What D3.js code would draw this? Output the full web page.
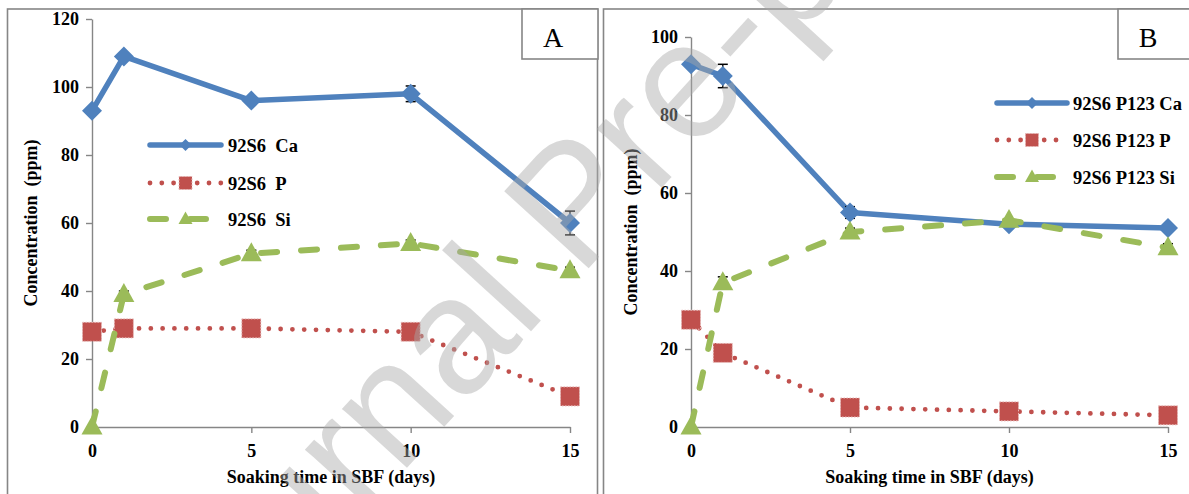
<!DOCTYPE html>
<html><head><meta charset="utf-8">
<script src="https://cdn.jsdelivr.net/npm/d3@7"></script>
<style>
body{margin:0;background:#fff}
svg{display:block}
</style>
</head><body>
<svg id="c" width="1189" height="494"></svg>
<script>
// ---------- data ----------
const days = [0, 1, 5, 10, 15];
const xTickVals = [0, 5, 10, 15];
const yTicksA = [0, 20, 40, 60, 80, 100, 120];
const yTicksB = [0, 20, 40, 60, 80, 100];

const caA = [93, 109, 96, 98, 60];
const pA  = [28, 29, 29, 28, 9];
const siA = [0, 39, 51, 54, 46];
const caAErr = [0, 1, 0, 2.3, 3.5];
const pAErr  = [0, 0, 0, 0, 0];
const siAErr = [0, 1, 1, 1, 1];

const caB = [93, 90, 55, 52, 51];
const pB  = [27.5, 19, 5, 4, 3];
const siB = [0, 37, 50, 53, 46];
const caBErr = [0, 3, 1.5, 0, 0];
const pBErr  = [0, 0, 0, 0, 0];
const siBErr = [0, 1.5, 1, 0, 1];

const namesA = ["92S6  Ca", "92S6  P", "92S6  Si"];
const namesB = ["92S6 P123 Ca", "92S6 P123 P", "92S6 P123 Si"];
const panelLabels = ["A", "B"];
const xTitle = "Soaking time in SBF (days)";
const yTitle = "Concentration  (ppm)";
const watermark = "Journal Pre-proof";

// ---------- styles ----------
const SERIF = "Liberation Serif";
const BLUE = "#4F81BD", RED = "#C0504D", GREEN = "#9BBB59", AXIS = "#868686";
const seriesStyle = [
  {color: BLUE, width: 5.5, dash: null, cap: "round", marker: "diamond"},
  {color: RED, width: 4.8, dash: "0,11.8", cap: "round", marker: "square"},
  {color: GREEN, width: 6, dash: "16,24", cap: "round", marker: "triangle"}
];

const svg = d3.select("#c");
svg.append("rect").attr("width", 1189).attr("height", 494).attr("fill", "#fff");

const panels = [
  {frame: {x: 7.5, y: 9, w: 590, h: 520}, plot: {x0: 92, x1: 570, yb: 427, yt: 19}, yMax: 120, yTicks: yTicksA,
   series: [[caA, caAErr], [pA, pAErr], [siA, siAErr]], names: namesA,
   legend: {x1: 150, x2: 221, tx: 228, ys: [145, 183, 219]},
   box: {x: 522, y: 9, w: 76, h: 50, tx: 553}, yTitleX: 37, label: panelLabels[0]},
  {frame: {x: 603.5, y: 9, w: 620, h: 520}, plot: {x0: 691, x1: 1168, yb: 427, yt: 37}, yMax: 100, yTicks: yTicksB,
   series: [[caB, caBErr], [pB, pBErr], [siB, siBErr]], names: namesB,
   legend: {x1: 997, x2: 1067, tx: 1073, ys: [103, 140, 177]},
   box: {x: 1118, y: 9, w: 90, h: 50, tx: 1148}, yTitleX: 637, label: panelLabels[1]}
];

function drawMarker(g, type, cx, cy, s, color) {
  if (type === "diamond") {
    g.append("path").attr("d", `M${cx},${cy - s}L${cx + s},${cy}L${cx},${cy + s}L${cx - s},${cy}Z`).attr("fill", color);
  } else if (type === "square") {
    g.append("rect").attr("x", cx - s).attr("y", cy - s).attr("width", 2 * s).attr("height", 2 * s)
      .attr("fill", color).attr("stroke", "#e6b9b8").attr("stroke-width", 1).attr("stroke-dasharray", "1.5,1.5");
  } else {
    const h = s * 1.8;
    g.append("path").attr("d", `M${cx},${cy - h * 0.6}L${cx + s},${cy + h * 0.4}L${cx - s},${cy + h * 0.4}Z`).attr("fill", color);
  }
}

panels.forEach(p => {
  const g = svg.append("g");
  g.append("rect").attr("x", p.frame.x).attr("y", p.frame.y).attr("width", p.frame.w).attr("height", p.frame.h)
    .attr("fill", "#fff").attr("stroke", AXIS).attr("stroke-width", 1.6);

  const x = d3.scaleLinear().domain([0, 15]).range([p.plot.x0, p.plot.x1]);
  const y = d3.scaleLinear().domain([0, p.yMax]).range([p.plot.yb, p.plot.yt]);

  const yAxis = g.append("g").attr("transform", `translate(${p.plot.x0},0)`)
    .call(d3.axisLeft(y).tickValues(p.yTicks).tickSize(6).tickSizeOuter(0).tickPadding(7).tickFormat(d3.format("d")));
  const xAxis = g.append("g").attr("transform", `translate(0,${p.plot.yb})`)
    .call(d3.axisBottom(x).tickValues(xTickVals).tickSize(6).tickSizeOuter(0).tickPadding(11).tickFormat(d3.format("d")));
  [xAxis, yAxis].forEach(a => {
    a.attr("font-family", SERIF).attr("font-size", 18);
    a.selectAll("path,line").attr("stroke", AXIS).attr("stroke-width", 1.4);
    a.selectAll("text").attr("fill", "#000").attr("font-family", SERIF).attr("font-size", 18).attr("font-weight", "bold");
  });

  // titles
  g.append("text").attr("x", (p.plot.x0 + p.plot.x1) / 2).attr("y", 483).attr("text-anchor", "middle")
    .attr("font-family", SERIF).attr("font-weight", "bold").attr("font-size", 18).text(xTitle);
  g.append("text").attr("transform", `translate(${p.yTitleX},${(p.plot.yb + p.plot.yt) / 2}) rotate(-90)`)
    .attr("text-anchor", "middle").attr("font-family", SERIF).attr("font-weight", "bold").attr("font-size", 18)
    .style("white-space", "pre").text(yTitle);

  // series
  p.series.forEach((s, i) => {
    const st = seriesStyle[i];
    const vals = s[0], errs = s[1];
    const pts = days.map((d, k) => [x(d), y(vals[k])]);
    const path = g.append("path").attr("d", d3.line()(pts)).attr("fill", "none")
      .attr("stroke", st.color).attr("stroke-width", st.width)
      .attr("stroke-linecap", st.cap).attr("stroke-linejoin", "round");
    if (st.dash) path.attr("stroke-dasharray", st.dash);
    // error bars
    days.forEach((d, k) => {
      if (errs[k] > 0) {
        const cx = x(d), yt = y(vals[k] + errs[k]), yb = y(vals[k] - errs[k]);
        g.append("line").attr("x1", cx).attr("x2", cx).attr("y1", yt).attr("y2", yb).attr("stroke", "#000").attr("stroke-width", 1.3);
        [yt, yb].forEach(yy => g.append("line").attr("x1", cx - 5).attr("x2", cx + 5).attr("y1", yy).attr("y2", yy)
          .attr("stroke", "#000").attr("stroke-width", 1.5));
      }
    });
    const ms = st.marker === "diamond" ? 10 : st.marker === "square" ? 9.5 : 10.5;
    pts.forEach(pt => drawMarker(g, st.marker, pt[0], pt[1], ms, st.color));

    // legend
    const ly = p.legend.ys[i];
    const lp = g.append("path").attr("d", d3.line()([[p.legend.x1, ly], [p.legend.x2, ly]])).attr("fill", "none")
      .attr("stroke", st.color).attr("stroke-width", st.width).attr("stroke-linecap", st.cap);
    if (st.dash) lp.attr("stroke-dasharray", st.dash);
    const lm = st.marker === "diamond" ? 6 : st.marker === "square" ? 6.5 : 7;
    drawMarker(g, st.marker, (p.legend.x1 + p.legend.x2) / 2, ly, lm, st.color);
    g.append("text").attr("x", p.legend.tx).attr("y", ly + 6.5)
      .attr("font-family", SERIF).attr("font-weight", "bold").attr("font-size", 18.5)
      .style("white-space", "pre").text(p.names[i]);
  });

  // panel label box
  g.append("rect").attr("x", p.box.x).attr("y", p.box.y).attr("width", p.box.w).attr("height", p.box.h)
    .attr("fill", "#fff").attr("stroke", AXIS).attr("stroke-width", 1.6);
  g.append("text").attr("x", p.box.tx).attr("y", 47).attr("text-anchor", "middle")
    .attr("font-family", SERIF).attr("font-size", 28).text(p.label);
});

// watermark
svg.append("text").attr("transform", "translate(182,715) rotate(-47.7)")
  .attr("font-size", 166).attr("font-family", "Liberation Sans")
  .attr("fill", "#a8a8a8").attr("fill-opacity", 0.45).text(watermark);
</script>
</body></html>
